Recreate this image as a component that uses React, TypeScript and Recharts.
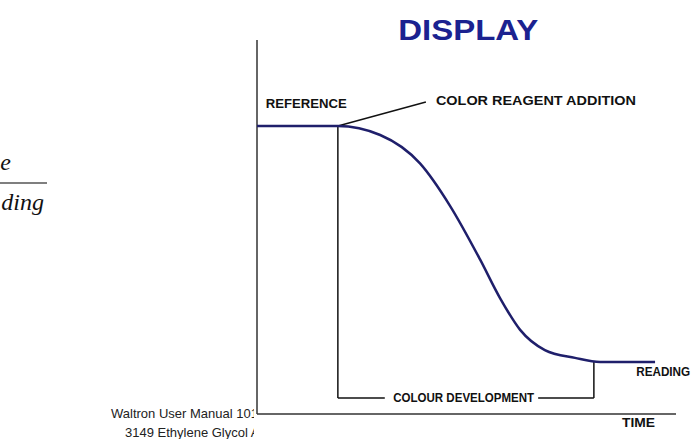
import { LineChart, Line, XAxis, YAxis, ReferenceLine, ReferenceDot } from "recharts";

// curve: time 0..100 across the axis, signal 0..100 up the axis
const TIME = [0, 19.3, 29.4, 38.9, 46.1, 53.2, 58.0, 62.8, 68.7, 75.9, 81.9, 95.0];
const SIGNAL = [77.0, 77.0, 74.6, 67.0, 55.6, 41.4, 31.0, 22.5, 17.1, 15.0, 13.9, 13.9];

// annotation leaders, [time, signal] pairs
const LEADER = [[19.3, 77.0], [40.3, 83.4]];
const DEV_LEFT = [[19.3, 77.0], [19.3, 4.3], [30.5, 4.3]];
const DEV_RIGHT = [[67.1, 4.3], [80.4, 4.3], [80.4, 13.9]];

const LABELS = [
  { text: "DISPLAY", t: 33.7, s: 102.7, size: 30, width: 140, color: "#1b2290" },
  { text: "REFERENCE", t: 2.1, s: 82.9, size: 13.5, width: 81, color: "#111" },
  { text: "COLOR REAGENT ADDITION", t: 42.7, s: 83.7, size: 13.5, width: 200, color: "#111" },
  { text: "COLOUR DEVELOPMENT", t: 32.5, s: 4.3, size: 13.5, width: 141, color: "#111" },
  { text: "READING", t: 90.5, s: 11.2, size: 12.5, width: 54, color: "#111" },
  { text: "TIME", t: 87.1, s: -2.4, size: 13.5, width: 33, color: "#111" },
];

const FOOTER = ["Waltron User Manual 101", "3149 Ethylene Glycol Analyser"];

const data = TIME.map((t, i) => ({ t, s: SIGNAL[i] }));
const FONT = '"Liberation Sans", Arial, sans-serif';
const INK = "#111";

function segments(pts: number[][]) {
  const out = [];
  for (let i = 0; i < pts.length - 1; i++) {
    out.push([{ x: pts[i][0], y: pts[i][1] }, { x: pts[i + 1][0], y: pts[i + 1][1] }]);
  }
  return out;
}

const tag = (l: typeof LABELS[number]) => (props: any) => {
  const vb = props.viewBox || {};
  const x = (vb.x ?? 0);
  const y = (vb.y ?? 0) + (vb.height ?? 0) / 2;
  return (
    <text x={x} y={y} dominantBaseline="central" fontFamily={FONT} fontWeight="bold"
          fontSize={l.size} fill={l.color} textLength={l.width} lengthAdjust="spacingAndGlyphs">
      {l.text}
    </text>
  );
};

export default function App() {
  const lines = [...segments(LEADER), ...segments(DEV_LEFT), ...segments(DEV_RIGHT)];
  return (
    <div style={{ position: "absolute", left: 0, top: 0, width: 693, height: 439, background: "#fff", overflow: "hidden" }}>
      <svg width={693} height={439} style={{ position: "absolute", left: 0, top: 0 }}>
        <defs>
          <clipPath id="page"><rect x={0} y={0} width={254} height={439} /></clipPath>
        </defs>
        <g fontFamily='"Liberation Serif", serif' fontStyle="italic" fontSize={24} fill="#111">
          <text x={11} y={170} textAnchor="end">e</text>
          <line x1={0} x2={47} y1={183} y2={183} stroke="#555" strokeWidth={1.5} />
          <text x={44} y={210} textAnchor="end">ding</text>
        </g>
        <g clipPath="url(#page)" fontFamily={FONT} fontSize={13} fill="#222">
          <text x={111} y={418}>{FOOTER[0]}</text>
          <text x={125} y={437}>{FOOTER[1]}</text>
        </g>
      </svg>
      <div style={{ position: "absolute", left: 0, top: 0 }}>
        <LineChart width={693} height={439} data={data} margin={{ top: 40, right: 17, bottom: 25, left: 257 }}>
          <XAxis dataKey="t" type="number" domain={[0, 100]} hide />
          <YAxis type="number" domain={[0, 100]} hide />
          <ReferenceLine x={0} stroke="#666" strokeWidth={2} />
          <ReferenceLine y={0} stroke="#333" strokeWidth={1.5} />
          {lines.map((seg, i) => (
            <ReferenceLine key={i} segment={seg} stroke={INK} strokeWidth={1.5} ifOverflow="visible" />
          ))}
          <Line type="monotone" dataKey="s" stroke="#1f1f6b" strokeWidth={2.5} dot={false} isAnimationActive={false} />
          {LABELS.map((l) => (
            <ReferenceDot key={l.text} x={l.t} y={l.s} r={0} fill="none" stroke="none" ifOverflow="visible" label={tag(l)} />
          ))}
        </LineChart>
      </div>
    </div>
  );
}
